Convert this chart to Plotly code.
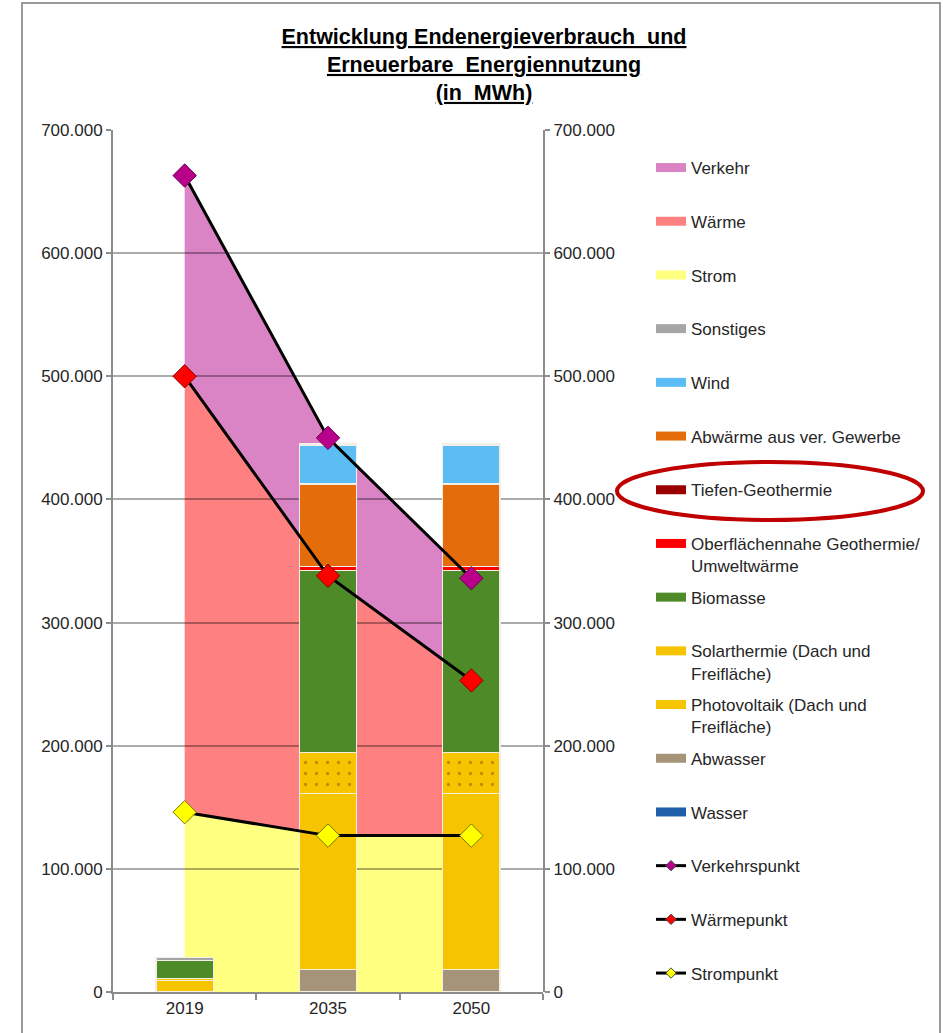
import plotly.graph_objects as go

# ---------------- data (MWh) ----------------
years = ["2019", "2035", "2050"]

# stacked areas (final energy consumption)
strom = [146000, 127000, 127000]
waerme = [354000, 211000, 126000]
verkehr = [163000, 112000, 82000]

# marker lines (cumulative consumption points)
verkehrspunkt = [663000, 450000, 336000]
waermepunkt = [500000, 338000, 253000]
strompunkt = [146000, 127000, 127000]

# stacked bars (renewable energy use)
wasser = [0, 0, 0]
abwasser = [0, 18000, 18000]
photovoltaik = [9200, 143500, 143500]
solarthermie = [1500, 33000, 33000]
biomasse = [14800, 148000, 148000]
oberflaeche = [0, 3000, 3000]
tiefen = [0, 0, 0]
abwaerme = [0, 67000, 67000]
wind = [0, 31000, 31000]
sonstiges = [2200, 1500, 1500]

y_ticks = [0, 100000, 200000, 300000, 400000, 500000, 600000, 700000]

# ---------------- styling ----------------
FONT = "Liberation Sans, Arial, sans-serif"
TXT = "#262626"
C = {
    "Verkehr": "#DA84C6",
    "Wärme": "#FF8080",
    "Strom": "#FFFF80",
    "Sonstiges": "#A6A6A6",
    "Wind": "#5CBDF5",
    "Abwärme": "#E46C0A",
    "Tiefen": "#9A0000",
    "Oberfl": "#FF0000",
    "Biomasse": "#4E8A28",
    "Solar": "#F6C500",
    "PV": "#F6C500",
    "Abwasser": "#A69478",
    "Wasser": "#1F5FAA",
}

# plot area in pixels (for paper-coordinate helpers)
L, R, T, B = 113, 543, 130, 992
W, H = 943, 1033


def px_x(p):
    return (p - L) / (R - L)


def px_y(p):
    return (B - p) / (B - T)


fig = go.Figure()

# ---- areas on subplot 1 (below the grid) ----
for name, vals, col in [("Strom", strom, C["Strom"]),
                        ("Wärme", waerme, C["Wärme"]),
                        ("Verkehr", verkehr, C["Verkehr"])]:
    fig.add_trace(go.Scatter(
        x=years, y=vals, name=name, stackgroup="area", mode="none",
        fillcolor=col, showlegend=False, xaxis="x", yaxis="y",
        hoverinfo="skip"))

# ---- bars on subplot 2 ----
bar_series = [
    ("Wasser", wasser, C["Wasser"], None),
    ("Abwasser", abwasser, C["Abwasser"], None),
    ("Photovoltaik (Dach und Freifläche)", photovoltaik, C["PV"], None),
    ("Solarthermie (Dach und Freifläche)", solarthermie, C["Solar"], "."),
    ("Biomasse", biomasse, C["Biomasse"], None),
    ("Oberflächennahe Geothermie/ Umweltwärme", oberflaeche, C["Oberfl"], None),
    ("Tiefen-Geothermie", tiefen, C["Tiefen"], None),
    ("Abwärme aus ver. Gewerbe", abwaerme, C["Abwärme"], None),
    ("Wind", wind, C["Wind"], None),
    ("Sonstiges", sonstiges, C["Sonstiges"], None),
]
for name, vals, col, pat in bar_series:
    marker = dict(color=col, line=dict(color="#F4EFE6", width=1.2))
    if pat:
        marker["pattern"] = dict(shape=".", fgcolor="#8A5200", bgcolor=col,
                                 size=11, solidity=0.07, fillmode="overlay")
    fig.add_trace(go.Bar(x=years, y=vals, name=name, marker=marker,
                         showlegend=False, xaxis="x2", yaxis="y2"))

# ---- marker lines ----
for name, vals, col, edge in [("Verkehrspunkt", verkehrspunkt, "#B8008A", "#6A0050"),
                              ("Wärmepunkt", waermepunkt, "#FF0000", "#8A0000"),
                              ("Strompunkt", strompunkt, "#FFFF00", "#7A7A00")]:
    fig.add_trace(go.Scatter(
        x=years, y=vals, name=name, mode="lines+markers",
        line=dict(color="black", width=3),
        marker=dict(symbol="diamond", size=18, color=col,
                    line=dict(color=edge, width=1)),
        showlegend=False, xaxis="x2", yaxis="y2"))

# ---- legend entries (swatches) ----
legend_items = [
    ("Verkehr", C["Verkehr"], False),
    ("Wärme", C["Wärme"], False),
    ("Strom", C["Strom"], False),
    ("Sonstiges", C["Sonstiges"], False),
    ("Wind", C["Wind"], False),
    ("Abwärme aus ver. Gewerbe", C["Abwärme"], False),
    ("Tiefen-Geothermie", C["Tiefen"], False),
    ("Oberflächennahe Geothermie/<br>Umweltwärme", C["Oberfl"], True),
    ("Biomasse", C["Biomasse"], False),
    ("Solarthermie (Dach und<br>Freifläche)", C["Solar"], True),
    ("Photovoltaik (Dach und<br>Freifläche)", C["PV"], True),
    ("Abwasser", C["Abwasser"], False),
    ("Wasser", C["Wasser"], False),
]
for i, (name, col, two) in enumerate(legend_items):
    label = name if two else name + "<br> "
    fig.add_trace(go.Scatter(
        x=[None], y=[None], name=label, mode="lines",
        line=dict(color=col, width=9), legendgroup="g%d" % i,
        xaxis="x2", yaxis="y2", hoverinfo="skip"))
for j, (name, col) in enumerate([("Verkehrspunkt", "#B8008A"),
                                 ("Wärmepunkt", "#FF0000"),
                                 ("Strompunkt", "#FFFF00")]):
    fig.add_trace(go.Scatter(
        x=[None], y=[None], name=name + "<br> ", mode="lines+markers",
        line=dict(color="black", width=3),
        marker=dict(symbol="diamond", size=8, color=col,
                    line=dict(color="#444444", width=1)),
        legendgroup="p%d" % j, xaxis="x2", yaxis="y2", hoverinfo="skip"))

axis_line = "#8C8C8C"
tick_font = dict(family=FONT, size=17, color=TXT)

fig.update_layout(
    width=W, height=H,
    margin=dict(l=L, r=W - R, t=T, b=H - B, pad=0),
    paper_bgcolor="white",
    plot_bgcolor="rgba(0,0,0,0)",
    separators=",.",
    barmode="stack",
    bargap=0.6,
    showlegend=True,
    font=dict(family=FONT, color=TXT),
    title=dict(
        text="<b><u>Entwicklung Endenergieverbrauch\u00a0 und</u><br>"
             "<u>Erneuerbare\u00a0 Energiennutzung</u><br><u>(in\u00a0 MWh)</u></b>",
        x=484 / W, xanchor="center", xref="container",
        y=1 - 44 / H, yanchor="top", yref="container",
        font=dict(family=FONT, size=21.5, color="black"),
    ),
    xaxis=dict(domain=[0, 1], type="category", categoryarray=years,
               range=[-0.5, 2.5], visible=False),
    yaxis=dict(domain=[0, 1], range=[0, 700000], side="right",
               tickvals=y_ticks, tickformat=",d", showgrid=False,
               zeroline=False, showline=True, linecolor=axis_line,
               linewidth=2, ticks="outside", ticklen=5, tickcolor=axis_line,
               tickwidth=1.5, tickfont=tick_font),
    xaxis2=dict(domain=[0, 1], anchor="y2", type="category",
                categoryarray=years, range=[-0.5, 2.5],
                showline=True, linecolor=axis_line, linewidth=2,
                ticks="outside", tickson="boundaries", ticklen=6,
                tickcolor=axis_line, tickwidth=1.5, showgrid=False,
                tickfont=tick_font),
    yaxis2=dict(domain=[0, 1], anchor="x2", range=[0, 700000], side="left",
                tickvals=y_ticks, tickformat=",d", showgrid=True,
                gridcolor="rgba(0,0,0,0.33)", gridwidth=1.5, zeroline=False,
                showline=True, linecolor=axis_line, linewidth=2,
                ticks="outside", ticklen=5, tickcolor=axis_line,
                tickwidth=1.5, tickfont=tick_font),
    legend=dict(
        x=px_x(651), xanchor="left", y=px_y(150), yanchor="top",
        traceorder="grouped", tracegroupgap=6.5, valign="top",
        maxheight=1000,
        font=dict(family=FONT, size=17, color=TXT),
        bgcolor="rgba(0,0,0,0)", itemclick=False, itemdoubleclick=False,
    ),
    shapes=[
        # frame around the chart
        dict(type="rect", xref="paper", yref="paper",
             x0=px_x(22), x1=px_x(940), y0=px_y(1040), y1=px_y(3),
             line=dict(color="#9A9A9A", width=2), fillcolor="rgba(0,0,0,0)",
             layer="above"),
        # red ellipse highlighting Tiefen-Geothermie
        dict(type="circle", xref="paper", yref="paper",
             x0=px_x(617), x1=px_x(923), y0=px_y(520), y1=px_y(462),
             line=dict(color="#C00000", width=4), fillcolor="rgba(0,0,0,0)",
             layer="above"),
    ],
)

fig.write_html(
    "out.html",
    config={"displayModeBar": False},
    post_script="document.body.style.margin='0';"
                "document.documentElement.style.overflow='hidden';",
)
